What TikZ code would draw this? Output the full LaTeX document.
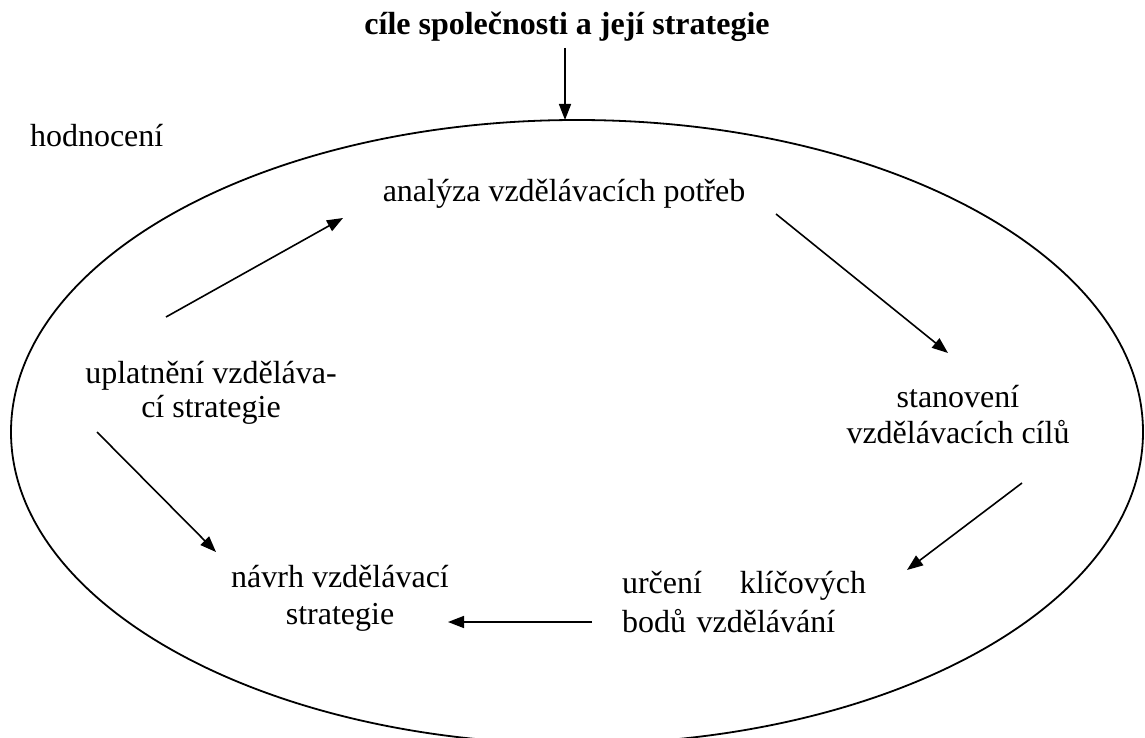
\documentclass[tikz,border=0pt]{standalone}
\usepackage{fontspec}
\setmainfont{Liberation Serif}
\usetikzlibrary{shapes.geometric,arrows.meta}
\tikzset{
  lbl/.style={inner sep=0pt, outer sep=0pt, font=\fontsize{32}{37}\selectfont},
  arr/.style={line width=1.6pt, -{Triangle[length=16pt,width=12pt]}},
  cycle/.style={draw, ellipse, line width=1.8pt, inner sep=0pt,
    minimum width=1132pt, minimum height=624pt}
}
\begin{document}
\begin{tikzpicture}[x=1pt,y=-1pt]
\useasboundingbox (0,0) rectangle (1145,738);
\node[cycle] (cyc) at (577,432) {};
\node[lbl, anchor=base, font=\fontsize{32}{37}\selectfont\bfseries] (title) at (567,35) {cíle společnosti a její strategie};
\node[lbl, anchor=base west] (hodn) at (30,147) {hodnocení};
\node[lbl, anchor=base] (anal) at (564,201) {analýza vzdělávacích potřeb};
\node[lbl, anchor=base, align=center, font=\fontsize{32}{36}\selectfont] (stan) at (958,443) {stanovení\\vzdělávacích cílů};
\node[lbl, anchor=base west, align=left, text width=244pt, font=\fontsize{32}{39}\selectfont] (urc) at (622,593) {určení\hfill klíčových\\bodů vzdělávání};
\node[lbl, anchor=base, align=center, font=\fontsize{32}{37}\selectfont] (navrh) at (340,624) {návrh vzdělávací\\strategie};
\node[lbl, anchor=base, align=center, font=\fontsize{32}{34}\selectfont] (upl) at (211,417) {uplatnění vzděláva-\\cí strategie};
\coordinate (a0s) at (565,48);
\coordinate (a0e) at (565,120);
\coordinate (a1s) at (166,317);
\coordinate (a1e) at (343,218);
\coordinate (a2s) at (776,214);
\coordinate (a2e) at (948,353);
\coordinate (a3s) at (1022,483);
\coordinate (a3e) at (907,570);
\coordinate (a4s) at (592,622);
\coordinate (a4e) at (448,622);
\coordinate (a5s) at (97,432);
\coordinate (a5e) at (216,552);
\draw[arr] (a0s) -- (a0e);
\draw[arr] (a1s) -- (a1e);
\draw[arr] (a2s) -- (a2e);
\draw[arr] (a3s) -- (a3e);
\draw[arr] (a4s) -- (a4e);
\draw[arr] (a5s) -- (a5e);
\end{tikzpicture}
\end{document}
